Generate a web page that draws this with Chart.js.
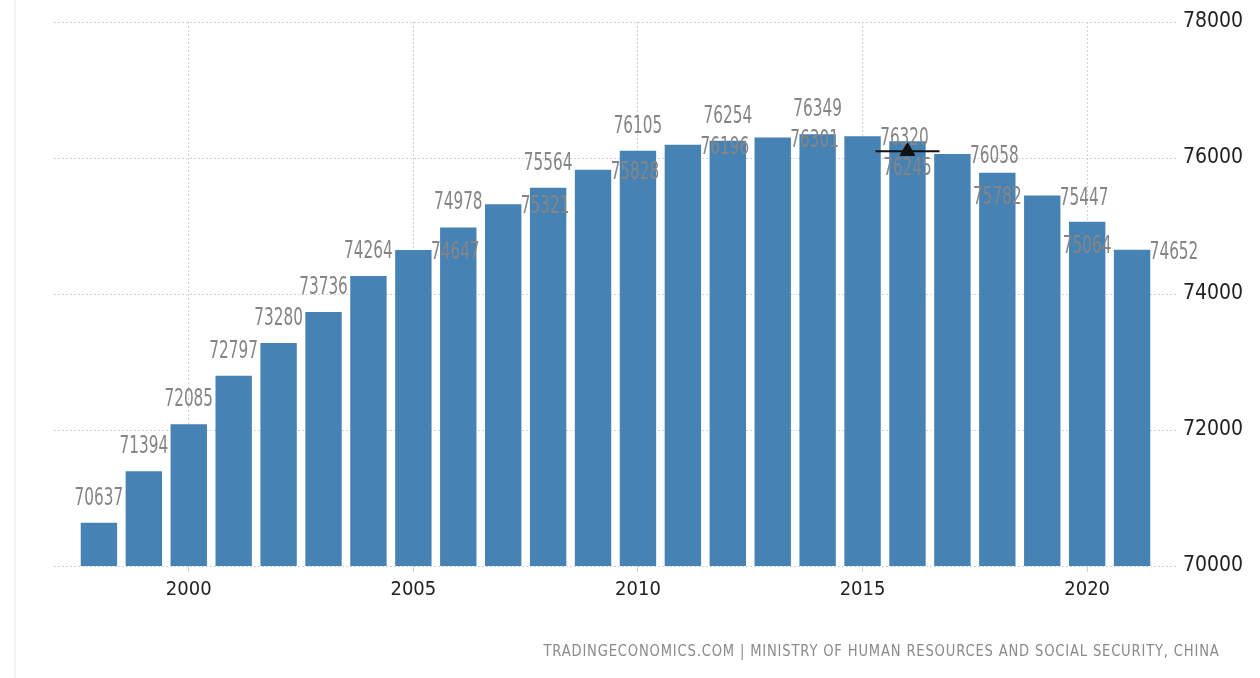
<!DOCTYPE html>
<html>
<head>
<meta charset="utf-8">
<title>China Employed Persons</title>
<script src="https://cdn.jsdelivr.net/npm/chart.js@4/dist/chart.umd.min.js"></script>
<style>
    body { margin: 0; background: #fff; }
    #wrap { position: relative; width: 1260px; height: 678px; overflow: hidden; }
    #edge { position: absolute; left: 14px; top: 0; width: 2px; height: 678px; background: #f3f3f3; }
    #source {
        position: absolute; right: 40px; top: 641px;
        font-family: "DejaVu Sans", sans-serif; font-size: 16px;
        letter-spacing: 1px; color: #8a8a8a; white-space: nowrap;
        transform: scaleX(0.82); transform-origin: right center;
    }
</style>
</head>
<body>
<div id="wrap">
    <div id="edge"></div>
    <canvas id="employedChart"></canvas>
    <div id="source">TRADINGECONOMICS.COM | MINISTRY OF HUMAN RESOURCES AND SOCIAL SECURITY, CHINA</div>
</div>
<script>
// Employed persons, China (10 thousand)
const years = [1998, 1999, 2000, 2001, 2002, 2003, 2004, 2005, 2006, 2007, 2008, 2009,
               2010, 2011, 2012, 2013, 2014, 2015, 2016, 2017, 2018, 2019, 2020, 2021];
const employed = [70637, 71394, 72085, 72797, 73280, 73736, 74264, 74647, 74978, 75321, 75564, 75828,
                  76105, 76196, 76254, 76301, 76349, 76320, 76245, 76058, 75782, 75447, 75064, 74652];
const forecastYears = [2016];
const forecastValues = [76100];
const xTickValues = [2000, 2005, 2010, 2015, 2020];
const yTickValues = [70000, 72000, 74000, 76000, 78000];

const narrowFont = '"Liberation Sans Narrow", "DejaVu Sans Condensed", "Liberation Sans", sans-serif';

// value labels, drawn the way the source renders them (every other label sits beside its bar)
const valueLabels = {
    id: "valueLabels",
    afterDatasetsDraw(chart) {
        const { ctx, scales: { x, y } } = chart;
        const size = 25;
        const placed = [];
        ctx.save();
        ctx.font = `${size}px ${narrowFont}`;
        ctx.fillStyle = "#858585";
        ctx.textAlign = "center";
        ctx.textBaseline = "alphabetic";
        years.forEach((yr, i) => {
            const vy = y.getPixelForValue(employed[i]);
            const shifted = yr >= 2005 && yr % 2 === 1;
            let cx, cy;
            if (shifted) {
                cx = x.getPixelForValue(yr + 1) - 3;
                cy = vy;
            } else {
                cx = x.getPixelForValue(yr);
                const prev = i > 0 && placed[i - 1].shifted ? placed[i - 1] : null;
                if (prev && employed[i - 1] > employed[i]) {
                    cy = Math.max(vy + 22, prev.cy + 30);
                } else {
                    cy = vy - 27;
                }
            }
            placed.push({ shifted, cy });
            ctx.save();
            ctx.translate(cx, cy + size * 0.36);
            ctx.scale(0.68, 1);
            ctx.fillText(String(employed[i]), 0, 0);
            ctx.restore();
        });
        ctx.restore();
    },
};

const ctx = document.getElementById("employedChart").getContext("2d");

const gridColor = "#d2d2d2";

new Chart(ctx, {
    type: "bar",
    data: {
        datasets: [
            {
                type: "line",
                data: forecastYears.map((yr, i) => ({ x: yr, y: forecastValues[i] })),
                pointStyle: "line",
                pointRadius: 32,
                pointBorderWidth: 2,
                pointBorderColor: "#111",
                showLine: false,
                order: 0,
            },
            {
                type: "line",
                data: forecastYears.map((yr, i) => ({ x: yr, y: forecastValues[i] })),
                pointStyle: "triangle",
                pointRadius: 8.5,
                pointBackgroundColor: "#111",
                pointBorderColor: "#111",
                pointBorderWidth: 1,
                showLine: false,
                order: 0,
            },
            {
                label: "Employed Persons",
                data: years.map((yr, i) => ({ x: yr, y: employed[i] })),
                backgroundColor: "#4682b4",
                barPercentage: 0.81,
                categoryPercentage: 1,
                order: 1,
            },
        ],
    },
    options: {
        responsive: true,
        maintainAspectRatio: false,
        animation: false,
        devicePixelRatio: 1,
        layout: { autoPadding: false, padding: { left: 54, top: 22, right: 0, bottom: 0 } },
        plugins: {
            legend: { display: false },
            tooltip: { enabled: false },
        },
        scales: {
            x: {
                type: "linear",
                offset: false,
                min: 1997,
                max: 2022,
                afterBuildTicks: (scale) => {
                    scale.ticks = xTickValues.map((v) => ({ value: v }));
                },
                afterFit: (scale) => {
                    scale.height = 112;
                },
                grid: { offset: false, color: gridColor, lineWidth: 1, drawTicks: true, tickLength: 6 },
                border: { display: false, dash: [2, 2] },
                ticks: {
                    padding: 6,
                    color: "#222",
                    font: { family: narrowFont, size: 20 },
                    callback: (value) => String(value),
                },
            },
            y: {
                position: "right",
                min: 70000,
                max: 78000,
                afterBuildTicks: (scale) => {
                    scale.ticks = yTickValues.map((v) => ({ value: v }));
                },
                afterFit: (scale) => {
                    scale.width = 83;
                },
                grid: { color: gridColor, lineWidth: 1, drawTicks: false },
                border: { display: false, dash: [2, 2] },
                ticks: {
                    padding: 6,
                    color: "#222",
                    font: { family: narrowFont, size: 21 },
                    callback: (value) => String(value),
                },
            },
        },
    },
    plugins: [valueLabels],
});
</script>
</body>
</html>
